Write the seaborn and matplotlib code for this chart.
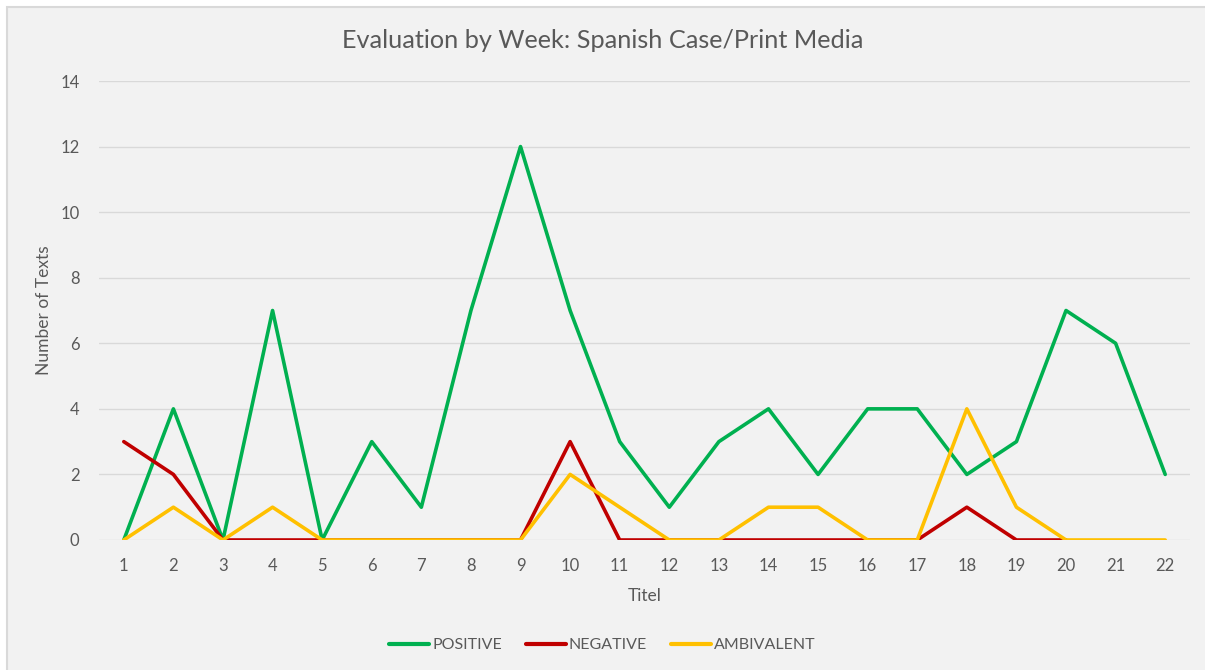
import numpy as np
import pandas as pd
import matplotlib
matplotlib.use("Agg")
import matplotlib.pyplot as plt
import seaborn as sns
from matplotlib.patches import Rectangle
from matplotlib.lines import Line2D

weeks = list(range(1, 23))
positive = [0, 4, 0, 7, 0, 3, 1, 7, 12, 7, 3, 1, 3, 4, 2, 4, 4, 2, 3, 7, 6, 2]
negative = [3, 2, 0, 0, 0, 0, 0, 0, 0, 3, 0, 0, 0, 0, 0, 0, 0, 1, 0, 0, np.nan, np.nan]
ambivalent = [0, 1, 0, 1, 0, 0, 0, 0, 0, 2, 1, 0, 0, 1, 1, 0, 0, 4, 1, 0, 0, 0]
series_names = ["POSITIVE", "NEGATIVE", "AMBIVALENT"]
colors = ["#00B050", "#C00000", "#FFC000"]

df = pd.concat([
    pd.DataFrame({"week": weeks, "value": vals, "series": name})
    for name, vals in zip(series_names, [positive, negative, ambivalent])
], ignore_index=True)

sns.set_theme(style="white")
plt.rcParams['font.family'] = ['Lato', 'DejaVu Sans']
txt = "#595959"

fig = plt.figure(figsize=(12.05, 6.7), dpi=100)
fig.patch.set_facecolor("white")
# chart area background with border (right/bottom edges cropped off in the reference)
fig.patches.append(Rectangle((7 / 1205, -0.05), 1.1, 1.05 - 7 / 670, transform=fig.transFigure,
                             facecolor="#F2F2F2", edgecolor="#D9D9D9", linewidth=1.5, zorder=-10))

ax = fig.add_axes([99 / 1205, 1 - 540 / 670, (1190 - 99) / 1205, (540 - 81) / 670])
ax.set_facecolor("#F2F2F2")
ax.patch.set_alpha(0)

sns.lineplot(data=df, x="week", y="value", hue="series", hue_order=series_names,
             palette=colors, linewidth=2.6, ax=ax, legend=False, sort=False)

ax.set_xlim(0.5, 22.5)
ax.set_ylim(0, 14)
ax.set_yticks(range(0, 15, 2))
ax.set_xticks(weeks)
ax.set_xticklabels([str(w) for w in weeks])
ax.yaxis.grid(True, color="#D9D9D9", linewidth=1)
ax.set_axisbelow(True)
for s in ax.spines.values():
    s.set_visible(False)
ax.tick_params(axis="both", length=0, labelsize=12, colors=txt)
ax.tick_params(axis="x", pad=13)
ax.tick_params(axis="y", pad=14)
ax.set_xlabel("Titel", fontsize=12.5, color=txt, labelpad=10)
ax.set_ylabel("Number of Texts", fontsize=12.5, color=txt, labelpad=6)

fig.text(0.5, 1 - 40 / 670, "Evaluation by Week: Spanish Case/Print Media", ha="center", va="center",
         fontsize=18.2, color=txt)

handles = [Line2D([0], [0], color=c, linewidth=3) for c in colors]
fig.legend(handles, series_names, loc="center", bbox_to_anchor=(0.5, 1 - 645 / 670), ncol=3,
           frameon=False, fontsize=11.5, labelcolor=txt, handlelength=2.5, handletextpad=0.2,
           columnspacing=1.5)

fig.savefig("out.png", dpi=100, facecolor=fig.get_facecolor())
